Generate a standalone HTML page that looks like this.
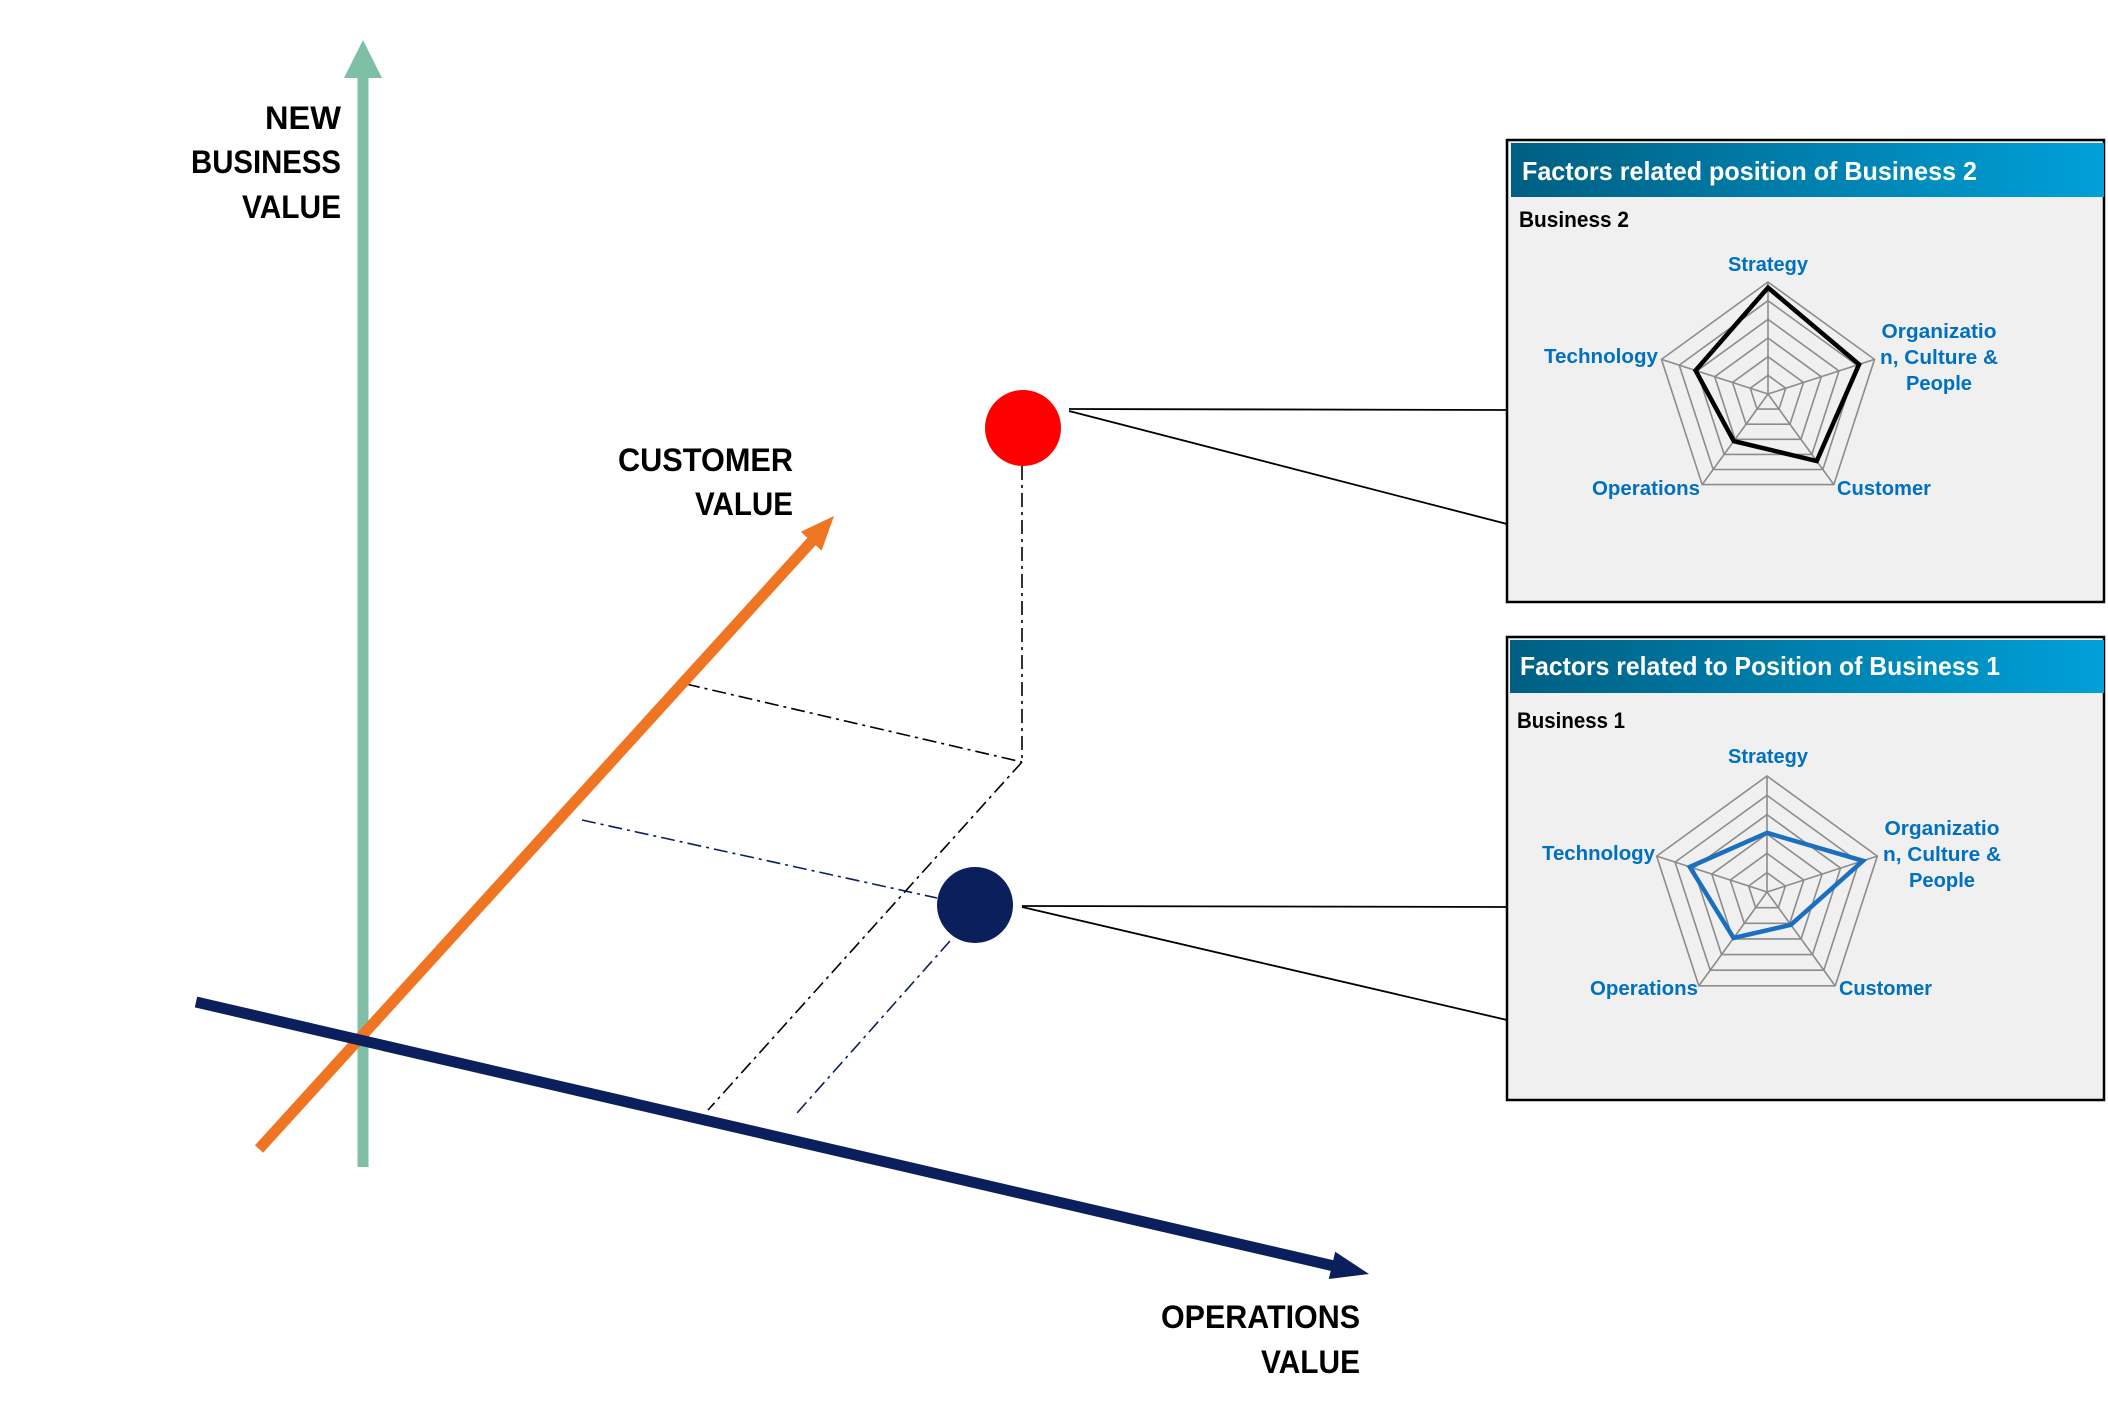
<!DOCTYPE html>
<html><head><meta charset="utf-8"><style>
html,body{margin:0;padding:0;background:#fff;}
svg{display:block;}
text{font-family:"Liberation Sans",sans-serif;font-weight:bold;}
</style></head><body>
<svg width="2108" height="1406" viewBox="0 0 2108 1406" xmlns="http://www.w3.org/2000/svg">
<defs>
<linearGradient id="hg" x1="0" x2="1" y1="0" y2="0">
<stop offset="0" stop-color="#005f82"/><stop offset="1" stop-color="#00a0d8"/>
</linearGradient>
</defs>

<!-- dash-dot guide lines -->
<g fill="none" stroke-width="1.6" stroke-dasharray="14,5,3,5">
<line x1="1022" y1="466" x2="1022" y2="762" stroke="#000"/>
<line x1="686" y1="684" x2="1022" y2="762" stroke="#000"/>
<line x1="1022" y1="762" x2="708" y2="1110" stroke="#000"/>
<line x1="582" y1="820" x2="937" y2="898" stroke="#0b1f5c"/>
<line x1="950" y1="941" x2="797" y2="1113" stroke="#0b1f5c"/>
</g>

<!-- axes -->
<line x1="363" y1="1167" x2="363" y2="76" stroke="#7fbfa6" stroke-width="11"/>
<polygon points="363,40 344,78 382,78" fill="#7fbfa6"/>
<line x1="259" y1="1149" x2="812" y2="541" stroke="#f07522" stroke-width="11"/>
<polygon points="834,516 821.6,550.6 800.8,531.8" fill="#f07522"/>
<line x1="196" y1="1002" x2="1334" y2="1266" stroke="#0b1f5c" stroke-width="11"/>
<polygon points="1369,1274 1328.8,1279 1335.2,1251.8" fill="#0b1f5c"/>

<!-- axis labels -->
<g font-size="32" fill="#000" text-anchor="end">
<text x="341" y="129" textLength="76" lengthAdjust="spacingAndGlyphs">NEW</text>
<text x="341" y="173" textLength="150" lengthAdjust="spacingAndGlyphs">BUSINESS</text>
<text x="341" y="218" textLength="99" lengthAdjust="spacingAndGlyphs">VALUE</text>
<text x="793" y="471" textLength="175" lengthAdjust="spacingAndGlyphs">CUSTOMER</text>
<text x="793" y="515" textLength="98" lengthAdjust="spacingAndGlyphs">VALUE</text>
<text x="1360" y="1328" textLength="199" lengthAdjust="spacingAndGlyphs">OPERATIONS</text>
<text x="1360" y="1373" textLength="99" lengthAdjust="spacingAndGlyphs">VALUE</text>
</g>

<!-- connectors -->
<g stroke="#000" stroke-width="1.8" fill="none">
<polyline points="1069,409 1507,410"/>
<polyline points="1069,411 1507,524"/>
<polyline points="1022,906 1507,907"/>
<polyline points="1022,907 1507,1020"/>
</g>

<!-- circles -->
<circle cx="1023" cy="428" r="38" fill="#ff0000"/>
<circle cx="975" cy="905" r="38" fill="#0b1f5c"/>

<!-- Panel 1 -->
<rect x="1507" y="140" width="597" height="462" fill="#f0f0f0" stroke="#000" stroke-width="2.5"/>
<rect x="1511" y="143" width="593" height="54" fill="url(#hg)"/>
<text x="1522" y="180" font-size="26" fill="#fff" textLength="455" lengthAdjust="spacingAndGlyphs">Factors related position  of Business 2</text>
<text x="1519" y="227" font-size="22" fill="#000" textLength="110" lengthAdjust="spacingAndGlyphs">Business 2</text>
<g transform="translate(1768,394) scale(112)" fill="none" stroke="#8c8c8c" stroke-width="1.6">
<g vector-effect="non-scaling-stroke">
<polygon vector-effect="non-scaling-stroke" points="0,-1 0.9511,-0.309 0.5878,0.809 -0.5878,0.809 -0.9511,-0.309"/>
<polygon vector-effect="non-scaling-stroke" transform="scale(0.8333)" points="0,-1 0.9511,-0.309 0.5878,0.809 -0.5878,0.809 -0.9511,-0.309"/>
<polygon vector-effect="non-scaling-stroke" transform="scale(0.6667)" points="0,-1 0.9511,-0.309 0.5878,0.809 -0.5878,0.809 -0.9511,-0.309"/>
<polygon vector-effect="non-scaling-stroke" transform="scale(0.5)" points="0,-1 0.9511,-0.309 0.5878,0.809 -0.5878,0.809 -0.9511,-0.309"/>
<polygon vector-effect="non-scaling-stroke" transform="scale(0.3333)" points="0,-1 0.9511,-0.309 0.5878,0.809 -0.5878,0.809 -0.9511,-0.309"/>
<polygon vector-effect="non-scaling-stroke" transform="scale(0.1667)" points="0,-1 0.9511,-0.309 0.5878,0.809 -0.5878,0.809 -0.9511,-0.309"/>
<path vector-effect="non-scaling-stroke" d="M0,0L0,-1M0,0L0.9511,-0.309M0,0L0.5878,0.809M0,0L-0.5878,0.809M0,0L-0.9511,-0.309"/>
</g>
<polygon vector-effect="non-scaling-stroke" stroke="#000" stroke-width="4.5" points="0,-0.95 0.8132,-0.2642 0.435,0.5987 -0.3057,0.4207 -0.6467,-0.2101"/>
</g>
<g font-size="20" fill="#0070c0">
<text x="1768" y="271" text-anchor="middle" textLength="80" lengthAdjust="spacingAndGlyphs">Strategy</text>
<text x="1544" y="363" textLength="114" lengthAdjust="spacingAndGlyphs">Technology</text>
<text x="1939" y="338" text-anchor="middle" textLength="115" lengthAdjust="spacingAndGlyphs">Organizatio</text>
<text x="1939" y="364" text-anchor="middle" textLength="118" lengthAdjust="spacingAndGlyphs">n, Culture &amp;</text>
<text x="1939" y="390" text-anchor="middle" textLength="66" lengthAdjust="spacingAndGlyphs">People</text>
<text x="1592" y="495" textLength="108" lengthAdjust="spacingAndGlyphs">Operations</text>
<text x="1837" y="495" textLength="94" lengthAdjust="spacingAndGlyphs">Customer</text>
</g>

<!-- Panel 2 -->
<rect x="1507" y="637" width="597" height="463" fill="#f0f0f0" stroke="#000" stroke-width="2.5"/>
<rect x="1510" y="640" width="594" height="53" fill="url(#hg)"/>
<text x="1520" y="675" font-size="26" fill="#fff" textLength="480" lengthAdjust="spacingAndGlyphs">Factors related to Position of Business 1</text>
<text x="1517" y="728" font-size="22" fill="#000" textLength="108" lengthAdjust="spacingAndGlyphs">Business 1</text>
<g transform="translate(1767,892) scale(116)" fill="none" stroke="#8c8c8c" stroke-width="1.6">
<polygon vector-effect="non-scaling-stroke" points="0,-1 0.9511,-0.309 0.5878,0.809 -0.5878,0.809 -0.9511,-0.309"/>
<polygon vector-effect="non-scaling-stroke" transform="scale(0.8333)" points="0,-1 0.9511,-0.309 0.5878,0.809 -0.5878,0.809 -0.9511,-0.309"/>
<polygon vector-effect="non-scaling-stroke" transform="scale(0.6667)" points="0,-1 0.9511,-0.309 0.5878,0.809 -0.5878,0.809 -0.9511,-0.309"/>
<polygon vector-effect="non-scaling-stroke" transform="scale(0.5)" points="0,-1 0.9511,-0.309 0.5878,0.809 -0.5878,0.809 -0.9511,-0.309"/>
<polygon vector-effect="non-scaling-stroke" transform="scale(0.3333)" points="0,-1 0.9511,-0.309 0.5878,0.809 -0.5878,0.809 -0.9511,-0.309"/>
<polygon vector-effect="non-scaling-stroke" transform="scale(0.1667)" points="0,-1 0.9511,-0.309 0.5878,0.809 -0.5878,0.809 -0.9511,-0.309"/>
<path vector-effect="non-scaling-stroke" d="M0,0L0,-1M0,0L0.9511,-0.309M0,0L0.5878,0.809M0,0L-0.5878,0.809M0,0L-0.9511,-0.309"/>
<polygon vector-effect="non-scaling-stroke" stroke="#1a6fc0" stroke-width="4.5" points="0,-0.51 0.8275,-0.2688 0.2057,0.2832 -0.288,0.3964 -0.6658,-0.2163"/>
</g>
<g font-size="20" fill="#0070c0">
<text x="1768" y="763" text-anchor="middle" textLength="80" lengthAdjust="spacingAndGlyphs">Strategy</text>
<text x="1542" y="860" textLength="113" lengthAdjust="spacingAndGlyphs">Technology</text>
<text x="1942" y="835" text-anchor="middle" textLength="115" lengthAdjust="spacingAndGlyphs">Organizatio</text>
<text x="1942" y="861" text-anchor="middle" textLength="118" lengthAdjust="spacingAndGlyphs">n, Culture &amp;</text>
<text x="1942" y="887" text-anchor="middle" textLength="66" lengthAdjust="spacingAndGlyphs">People</text>
<text x="1590" y="995" textLength="108" lengthAdjust="spacingAndGlyphs">Operations</text>
<text x="1839" y="995" textLength="93" lengthAdjust="spacingAndGlyphs">Customer</text>
</g>
</svg>
</body></html>
